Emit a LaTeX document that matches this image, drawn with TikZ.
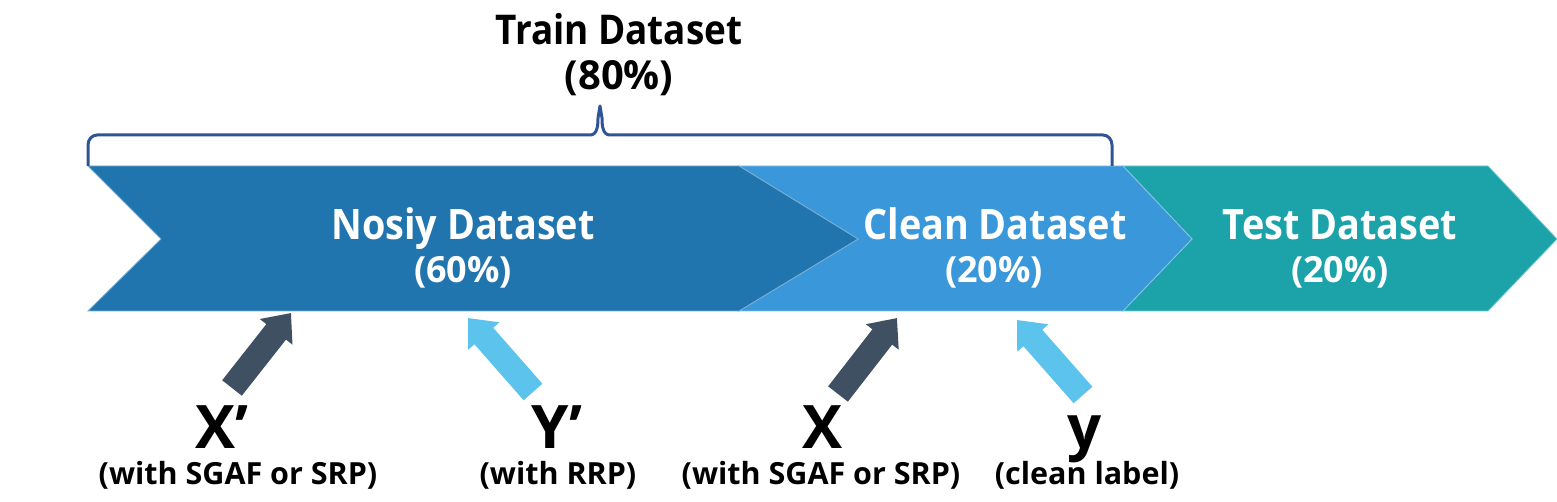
\documentclass[tikz,border=0pt]{standalone}
\usepackage{fontspec}
\setmainfont{Open Sans}[FakeStretch=0.9]
\newfontfamily\widefont{Open Sans}
\usetikzlibrary{arrows.meta}
\definecolor{noisyc}{HTML}{2175AE}
\definecolor{cleanc}{HTML}{3A98DA}
\definecolor{testc}{HTML}{1CA3AA}
\definecolor{darkarr}{HTML}{3E5061}
\definecolor{lightarr}{HTML}{5CC3ED}
\definecolor{bracec}{HTML}{2F5496}
\tikzset{
  x=1pt, y=-1pt,
  band/.style={line width=0.8pt},
  wtxt/.style={text=white, font=\bfseries\fontsize{42}{46}\selectfont, anchor=base, inner sep=0pt},
  wpct/.style={text=white, font=\widefont\bfseries\fontsize{36}{40}\selectfont, anchor=base, inner sep=0pt},
  ttxt/.style={text=black, font=\bfseries\fontsize{41}{46}\selectfont, anchor=base, inner sep=0pt},
  tpct/.style={text=black, font=\widefont\bfseries\fontsize{40}{44}\selectfont, anchor=base, inner sep=0pt},
  biglbl/.style={text=black, font=\widefont\bfseries\fontsize{60}{64}\selectfont, anchor=base, inner sep=0pt},
  smlbl/.style={text=black, font=\widefont\bfseries\fontsize{30.5}{34}\selectfont, anchor=base, inner sep=0pt},
  blockarrow/.style={line width=25pt, -{Triangle[width=40pt,length=24pt]}},
}
\begin{document}
\begin{tikzpicture}
\useasboundingbox (0,0) rectangle (1557,502);
% bands
\fill[testc, draw=testc!60!white, band] (1123,166) -- (1488,166) -- (1557,239) -- (1488,311) -- (1123,311) -- (1192,239) -- cycle;
\fill[cleanc, draw=cleanc!60!white, band] (739,166) -- (1123,166) -- (1192,239) -- (1123,311) -- (739,311) -- (858,239) -- cycle;
\fill[noisyc, draw=noisyc!60!white, band] (88,166) -- (739,166) -- (858,239) -- (739,311) -- (88,311) -- (161,239) -- cycle;
% brace
\draw[bracec, line width=3pt, line join=round]
  (88,166) -- (88,145) to[out=90,in=180] (97,135) -- (590,135)
  to[out=0,in=-90] (598,118) -- (600,106) -- (602,118) to[out=-90,in=180] (610,135)
  -- (1103,135) to[out=0,in=90] (1112,145) -- (1112,166);
% texts
\node[ttxt] (train) at (619,45) {Train Dataset};
\node[tpct] (trainp) at (619,90) {(80\%)};
\node[wtxt] (noisy) at (463,240) {Nosiy Dataset};
\node[wpct] (noisyp) at (463,283) {(60\%)};
\node[wtxt] (clean) at (995,240) {Clean Dataset};
\node[wpct] (cleanp) at (994,283) {(20\%)};
\node[wtxt] (test) at (1340,240) {Test Dataset};
\node[wpct] (testp) at (1340,283) {(20\%)};
% labels
\node[biglbl] (xp) at (222,448) {X’};
\node[smlbl] (xpl) at (238,484) {(with SGAF or SRP)};
\node[biglbl] (yp) at (557,448) {Y’};
\node[smlbl] (ypl) at (558,484) {(with RRP)};
\node[biglbl] (xc) at (822,448) {X};
\node[smlbl] (xcl) at (821,484) {(with SGAF or SRP)};
\node[biglbl] (yc) at (1085,448) {y};
\node[smlbl] (ycl) at (1087,484) {(clean label)};
% arrows
\coordinate (a1t) at (232,388); \coordinate (a1h) at (291,313);
\coordinate (a2t) at (533,392); \coordinate (a2h) at (468,318);
\coordinate (a3t) at (838,394); \coordinate (a3h) at (897,318);
\coordinate (a4t) at (1083,395); \coordinate (a4h) at (1017,320);
\draw[blockarrow, darkarr] (a1t) -- (a1h);
\draw[blockarrow, lightarr] (a2t) -- (a2h);
\draw[blockarrow, darkarr] (a3t) -- (a3h);
\draw[blockarrow, lightarr] (a4t) -- (a4h);
\end{tikzpicture}
\end{document}
